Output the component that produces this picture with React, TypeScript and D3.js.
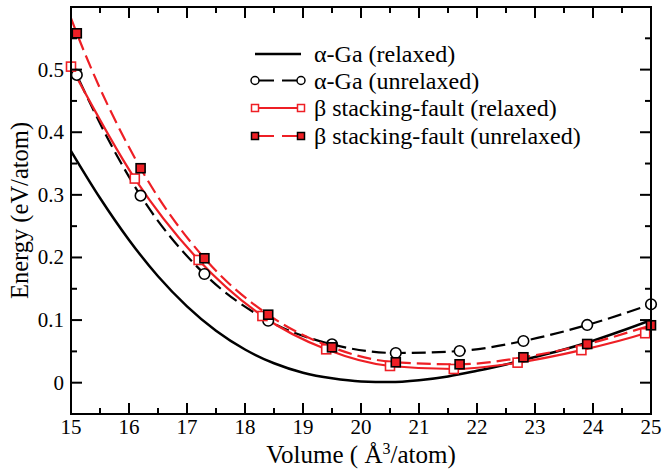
import React from "react";
import * as d3 from "d3";

// ---- data ----
const alphaRelaxedV = [15, 15.5, 16, 16.5, 17, 17.5, 18, 18.5, 19, 19.5, 20, 20.5, 21, 21.5, 22, 22.5, 23, 23.5, 24, 24.5, 25];
const alphaRelaxedE = [0.37, 0.295, 0.228, 0.17, 0.122, 0.083, 0.053, 0.031, 0.016, 0.007, 0.002, 0.001, 0.004, 0.01, 0.019, 0.029, 0.041, 0.053, 0.067, 0.083, 0.1];

const alphaUnrelaxedV = [15.1, 16.2, 17.3, 18.4, 19.5, 20.6, 21.7, 22.8, 23.9, 25.0];
const alphaUnrelaxedE = [0.4915, 0.2987, 0.1736, 0.099, 0.0613, 0.0474, 0.0506, 0.0666, 0.0922, 0.1252];
const alphaUnrelaxedFitV = [15.0, 15.1, 16.2, 17.3, 18.4, 19.5, 20.6, 21.7, 22.8, 23.9, 25.0];
const alphaUnrelaxedFitE = [0.512, 0.4915, 0.2987, 0.1736, 0.099, 0.0613, 0.0474, 0.0506, 0.0666, 0.0922, 0.1252];

const betaRelaxedV = [15.0, 16.1, 17.2, 18.3, 19.4, 20.5, 21.6, 22.7, 23.8, 24.9];
const betaRelaxedE = [0.5048, 0.326, 0.196, 0.1065, 0.0533, 0.0267, 0.0219, 0.032, 0.052, 0.079];
const betaRelaxedFitV = [15.0, 16.1, 17.2, 18.3, 19.4, 20.5, 21.6, 22.7, 23.8, 24.9, 25.0];
const betaRelaxedFitE = [0.5048, 0.326, 0.196, 0.1065, 0.0533, 0.0267, 0.0219, 0.032, 0.052, 0.079, 0.082];

const betaUnrelaxedV = [15.1, 16.2, 17.3, 18.4, 19.5, 20.6, 21.7, 22.8, 23.9, 25.0];
const betaUnrelaxedE = [0.558, 0.3425, 0.1987, 0.1086, 0.0565, 0.0326, 0.0294, 0.0406, 0.0618, 0.0917];
const betaUnrelaxedFitV = [15.0, 15.1, 16.2, 17.3, 18.4, 19.5, 20.6, 21.7, 22.8, 23.9, 25.0];
const betaUnrelaxedFitE = [0.582, 0.558, 0.3425, 0.1987, 0.1086, 0.0565, 0.0326, 0.0294, 0.0406, 0.0618, 0.0917];

const xTicks = [15, 16, 17, 18, 19, 20, 21, 22, 23, 24, 25];
const xMinorTicks = [15.5, 16.5, 17.5, 18.5, 19.5, 20.5, 21.5, 22.5, 23.5, 24.5];
const yTicks = [0, 0.1, 0.2, 0.3, 0.4, 0.5];
const yTickLabels = ["0", "0.1", "0.2", "0.3", "0.4", "0.5"];
const yMinorTicks = [-0.05, 0.05, 0.15, 0.25, 0.35, 0.45, 0.55];

const legendLabels = ["α-Ga (relaxed)", "α-Ga (unrelaxed)", "β stacking-fault (relaxed)", "β stacking-fault (unrelaxed)"];

const RED = "#ee1f25";
const FONT = "'Liberation Serif', 'Times New Roman', serif";

export default function App() {
  const W = 663, H = 472;
  const left = 71, right = 651, top = 7, bottom = 414;
  const x = d3.scaleLinear().domain([15, 25]).range([left, right]);
  const y = d3.scaleLinear().domain([-0.05, 0.6]).range([bottom, top]);

  const mk = (vs: number[], es: number[], curve: any) =>
    d3.line<number>().x((_, i) => x(vs[i])).y((_, i) => y(es[i])).curve(curve)(vs) || "";

  const pAlphaRel = mk(alphaRelaxedV, alphaRelaxedE, d3.curveMonotoneX);
  const pAlphaUn = mk(alphaUnrelaxedFitV, alphaUnrelaxedFitE, d3.curveMonotoneX);
  const pBetaRel = mk(betaRelaxedFitV, betaRelaxedFitE, d3.curveMonotoneX);
  const pBetaUn = mk(betaUnrelaxedFitV, betaUnrelaxedFitE, d3.curveMonotoneX);

  const major = 11, minor = 6;
  const sq = 9;
  const lgX1 = 255, lgX2 = 301, lgTextX = 314;
  const lgY = [54, 80.5, 108, 136];

  return (
    <svg width={W} height={H} style={{ position: "absolute", left: 0, top: 0, background: "#fff", fontFamily: FONT }}>
      <defs>
        <clipPath id="plotclip">
          <rect x={left} y={top} width={right - left} height={bottom - top} />
        </clipPath>
      </defs>
      <rect x={0} y={0} width={W} height={H} fill="#fff" />

      {/* curves */}
      <g clipPath="url(#plotclip)" fill="none">
        <path d={pAlphaRel} stroke="#000" strokeWidth={2.5} />
        <path d={pAlphaUn} stroke="#000" strokeWidth={2.2} strokeDasharray="14,6" />
        <path d={pBetaRel} stroke={RED} strokeWidth={2.2} />
        <path d={pBetaUn} stroke={RED} strokeWidth={2.2} strokeDasharray="14,6" />
      </g>

      {/* markers */}
      <g>
        {alphaUnrelaxedV.map((v, i) => (
          <circle key={"c" + i} cx={x(v)} cy={y(alphaUnrelaxedE[i])} r={5.3} fill="#fff" stroke="#000" strokeWidth={1.6} />
        ))}
        {betaRelaxedV.map((v, i) => (
          <rect key={"o" + i} x={x(v) - sq / 2} y={y(betaRelaxedE[i]) - sq / 2} width={sq} height={sq} fill="#fff" stroke={RED} strokeWidth={1.6} />
        ))}
        {betaUnrelaxedV.map((v, i) => (
          <rect key={"f" + i} x={x(v) - sq / 2} y={y(betaUnrelaxedE[i]) - sq / 2} width={sq} height={sq} fill={RED} stroke="#000" strokeWidth={1.6} />
        ))}
      </g>

      {/* frame and ticks */}
      <g stroke="#000" strokeWidth={2}>
        <rect x={left} y={top} width={right - left} height={bottom - top} fill="none" />
        {xTicks.map((t) => (
          <g key={"xt" + t}>
            <line x1={x(t)} x2={x(t)} y1={bottom} y2={bottom - major} />
            <line x1={x(t)} x2={x(t)} y1={top} y2={top + major} />
          </g>
        ))}
        {xMinorTicks.map((t) => (
          <g key={"xm" + t}>
            <line x1={x(t)} x2={x(t)} y1={bottom} y2={bottom - minor} />
            <line x1={x(t)} x2={x(t)} y1={top} y2={top + minor} />
          </g>
        ))}
        {yTicks.map((t) => (
          <g key={"yt" + t}>
            <line x1={left} x2={left + major} y1={y(t)} y2={y(t)} />
            <line x1={right} x2={right - major} y1={y(t)} y2={y(t)} />
          </g>
        ))}
        {yMinorTicks.map((t) => (
          <g key={"ym" + t}>
            <line x1={left} x2={left + minor} y1={y(t)} y2={y(t)} />
            <line x1={right} x2={right - minor} y1={y(t)} y2={y(t)} />
          </g>
        ))}
      </g>

      {/* tick labels */}
      <g fontSize={21} fill="#000">
        {xTicks.map((t) => (
          <text key={"xl" + t} x={x(t)} y={434} textAnchor="middle">{t}</text>
        ))}
        {yTicks.map((t, i) => (
          <text key={"yl" + t} x={64} y={y(t) + 7} textAnchor="end">{yTickLabels[i]}</text>
        ))}
      </g>

      {/* axis titles */}
      <text x={(left + right) / 2} y={463} textAnchor="middle" fontSize={25}>
        Volume ( Å<tspan dy={-9} fontSize={16}>3</tspan><tspan dy={9}>/atom)</tspan>
      </text>
      <text transform={`translate(28,${(top + bottom) / 2}) rotate(-90)`} textAnchor="middle" fontSize={24.5}>
        Energy (eV/atom)
      </text>

      {/* legend */}
      <g>
        <line x1={lgX1} x2={lgX2} y1={lgY[0]} y2={lgY[0]} stroke="#000" strokeWidth={2.5} />
        <line x1={lgX1} x2={lgX2} y1={lgY[1]} y2={lgY[1]} stroke="#000" strokeWidth={2.2} strokeDasharray="19,8" />
        <circle cx={lgX1} cy={lgY[1]} r={4} fill="#fff" stroke="#000" strokeWidth={1.5} />
        <circle cx={lgX2} cy={lgY[1]} r={4} fill="#fff" stroke="#000" strokeWidth={1.5} />
        <line x1={lgX1} x2={lgX2} y1={lgY[2]} y2={lgY[2]} stroke={RED} strokeWidth={2} />
        <rect x={lgX1 - 3.5} y={lgY[2] - 3.5} width={7} height={7} fill="#fff" stroke={RED} strokeWidth={1.5} />
        <rect x={lgX2 - 3.5} y={lgY[2] - 3.5} width={7} height={7} fill="#fff" stroke={RED} strokeWidth={1.5} />
        <line x1={lgX1} x2={lgX2} y1={lgY[3]} y2={lgY[3]} stroke={RED} strokeWidth={2} strokeDasharray="19,8" />
        <rect x={lgX1 - 3.5} y={lgY[3] - 3.5} width={7} height={7} fill={RED} stroke="#000" strokeWidth={1.5} />
        <rect x={lgX2 - 3.5} y={lgY[3] - 3.5} width={7} height={7} fill={RED} stroke="#000" strokeWidth={1.5} />
        {legendLabels.map((l, i) => (
          <text key={"lg" + i} x={lgTextX} y={lgY[i] + 8} fontSize={24}>{l}</text>
        ))}
      </g>
    </svg>
  );
}
